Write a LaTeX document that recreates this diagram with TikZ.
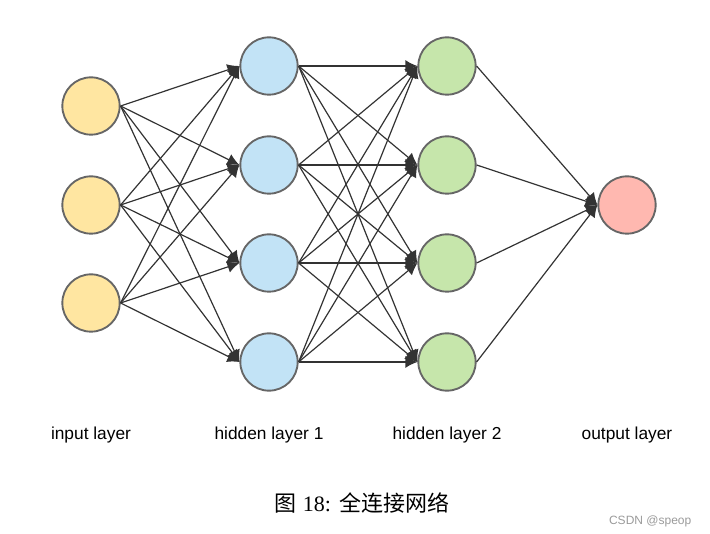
\documentclass[tikz,border=0pt]{standalone}
\usepackage{fontspec}
\setmainfont{Liberation Sans}
\newfontfamily\capfont{Liberation Serif}
\newfontfamily\cjk{Noto Sans CJK SC}
\usetikzlibrary{arrows.meta,positioning}
\definecolor{ink}{HTML}{333333}
\definecolor{rim}{HTML}{666666}
\definecolor{inpfill}{HTML}{FFE6A1}
\definecolor{hidafill}{HTML}{C2E3F6}
\definecolor{hidbfill}{HTML}{C6E6AB}
\definecolor{outfill}{HTML}{FFB8B0}
\definecolor{muted}{HTML}{9A9A9A}
\tikzset{
  neuron/.style={circle,draw=rim,line width=1.4pt,minimum size=43pt,inner sep=0pt},
  inp/.style={neuron,fill=inpfill},
  hida/.style={neuron,fill=hidafill},
  hidb/.style={neuron,fill=hidbfill},
  outp/.style={neuron,fill=outfill},
  wire/.style={-{Latex[length=9pt,width=9pt]},draw=ink,line width=0.9pt},
  layerlabel/.style={font=\fontsize{13}{15}\selectfont,text=black},
}

\begin{document}
\begin{tikzpicture}[x=0.75pt,y=-0.75pt]
  \useasboundingbox (0,0) rectangle (710,534);
  % neurons
  \foreach \k/\y in {1/106,2/205,3/303}{
    \node[inp] (i\k) at (91,\y) {};
  }
  \foreach \k/\y in {1/66,2/165,3/263,4/362}{
    \node[hida] (h\k) at (269,\y) {};
    \node[hidb] (g\k) at (447,\y) {};
  }
  \node[outp] (o) at (627,205) {};
  % connections
  \foreach \a in {1,2,3}{ \foreach \b in {1,...,4}{
    \draw[wire] (i\a.east) -- (h\b.west);
  }}
  \foreach \a in {1,...,4}{ \foreach \b in {1,...,4}{
    \draw[wire] (h\a.east) -- (g\b.west);
  }}
  \foreach \a in {1,...,4}{
    \draw[wire] (g\a.east) -- (o.west);
  }
  % labels
  \node[layerlabel] (li) at (91,435) {input layer};
  \node[layerlabel] (lh) at (269,435) {hidden layer 1};
  \node[layerlabel] (lg) at (447,435) {hidden layer 2};
  \node[layerlabel] (lo) at (627,435) {output layer};
  \node[font=\fontsize{16.5}{19}\selectfont] (cap) at (362,503) {{\cjk 图} {\capfont 18:} {\cjk 全连接网络}};
  \node[font=\fontsize{9}{11}\selectfont,text=muted,anchor=east] (mark) at (696,521) {CSDN @speop};
\end{tikzpicture}
\end{document}
